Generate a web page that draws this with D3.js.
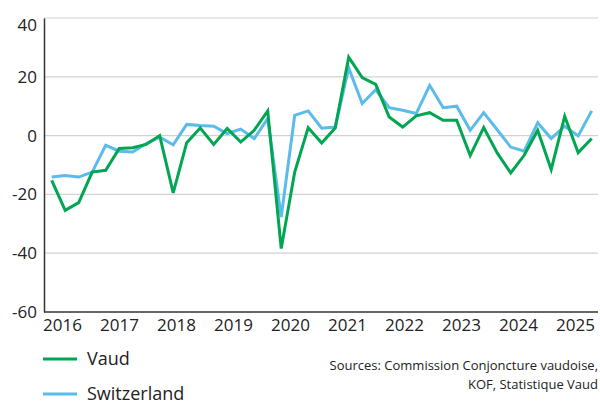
<!DOCTYPE html>
<html lang="en">
<head>
<meta charset="utf-8">
<title>Vaud vs Switzerland</title>
<script src="https://cdn.jsdelivr.net/npm/d3@7"></script>
<style>
  body { margin: 0; background: #fff; }
  svg text { font-family: "Open Sans", sans-serif; fill: #222; }
  .grid line { stroke: #d2d2d2; stroke-width: 1.2; }
  .axis path, .axis line { stroke: #333; }
</style>
</head>
<body>
<svg width="600" height="407"></svg>
<script>
// quarterly survey periods
var periods = ["2016 Q1","2016 Q2","2016 Q3","2016 Q4","2017 Q1","2017 Q2","2017 Q3","2017 Q4",
  "2018 Q1","2018 Q2","2018 Q3","2018 Q4","2019 Q1","2019 Q2","2019 Q3","2019 Q4",
  "2020 Q1","2020 Q2","2020 Q3","2020 Q4","2021 Q1","2021 Q2","2021 Q3","2021 Q4",
  "2022 Q1","2022 Q2","2022 Q3","2022 Q4","2023 Q1","2023 Q2","2023 Q3","2023 Q4",
  "2024 Q1","2024 Q2","2024 Q3","2024 Q4","2025 Q1","2025 Q2","2025 Q3","2025 Q4","2026 Q1"];

var vaud = [-15.2,-25.4,-22.8,-12.4,-11.8,-4.4,-4.1,-3.0,0,-19.5,-2.4,
  2.6,-3.0,2.4,-2.2,1.8,8.4,-38.4,-12.4,2.7,-2.5,
  2.6,26.7,19.7,17.4,6.3,2.9,6.7,7.8,5.2,5.2,
  -6.8,2.7,-5.9,-12.7,-6.7,1.8,-11.5,6.6,-5.8,-1.0];

var swiss = [-14.1,-13.6,-14.1,-12.4,-3.3,-5.3,-5.6,-2.7,-0.5,-3.1,3.8,
  3.4,3.2,0.7,2.2,-1.0,5.8,-27.7,6.9,8.4,2.5,
  2.9,23.0,10.9,15.6,9.5,8.6,7.5,17.1,9.5,10.0,
  1.8,7.8,2.0,-3.9,-5.3,4.4,-1.0,3.2,-0.1,8.4];

var years = [2016,2017,2018,2019,2020,2021,2022,2023,2024,2025];
var yTicks = [-60,-40,-20,0,20,40];

var series = [
  {name: "Switzerland", values: swiss, color: "#5bbbea"},
  {name: "Vaud", values: vaud, color: "#00a651"}
];

var svg = d3.select("svg");
var plotLeft = 44, plotRight = 598, plotTop = 18, plotBottom = 312;

var x = d3.scalePoint().domain(periods).range([51.7, 591.7]);
var xYear = d3.scaleLinear().domain([2016, 2025]).range([62, 575]);
var y = d3.scaleLinear().domain([-60, 40]).range([plotBottom, plotTop]);

// gridlines
svg.append("g").attr("class", "grid")
  .selectAll("line")
  .data(yTicks.filter(function(d) { return d > -60; }))
  .enter().append("line")
  .attr("x1", plotLeft).attr("x2", plotRight)
  .attr("y1", function(d) { return y(d); })
  .attr("y2", function(d) { return y(d); });

// y axis (plain hyphen for negatives, like the original)
var gy = svg.append("g").attr("class", "axis")
  .attr("transform", "translate(" + plotLeft + ",0)")
  .call(d3.axisLeft(y).tickValues(yTicks).tickSize(0).tickPadding(7)
    .tickFormat(function(d) { return String(d); }));
gy.select(".domain").attr("stroke-width", 1.5);
gy.selectAll("text").style("font-size", "17px").style("font-family", "'Open Sans', sans-serif")
  .attr("fill", "#222");
gy.selectAll(".tick").filter(function(d) { return d === 40; })
  .select("text").attr("dy", "0.75em");

// x axis line + year labels
svg.append("line")
  .attr("x1", plotLeft).attr("x2", plotRight)
  .attr("y1", plotBottom).attr("y2", plotBottom)
  .attr("stroke", "#333").attr("stroke-width", 1.5);

var gx = svg.append("g").attr("class", "axis")
  .attr("transform", "translate(0," + plotBottom + ")")
  .call(d3.axisBottom(xYear).tickValues(years).tickFormat(d3.format("d")).tickSize(0).tickPadding(7));
gx.select(".domain").remove();
gx.selectAll("text").style("font-size", "17px").style("font-family", "'Open Sans', sans-serif")
  .attr("fill", "#222");

// lines
var line = d3.line()
  .x(function(d, i) { return x(periods[i]); })
  .y(function(d) { return y(d); });

svg.selectAll(".series")
  .data(series)
  .enter().append("path")
  .attr("class", "series")
  .attr("d", function(d) { return line(d.values); })
  .attr("fill", "none")
  .attr("stroke", function(d) { return d.color; })
  .attr("stroke-width", 3)
  .attr("stroke-linejoin", "miter");

// legend
var legend = [series[1], series[0]];
var lg = svg.selectAll(".legend")
  .data(legend)
  .enter().append("g")
  .attr("class", "legend")
  .attr("transform", function(d, i) { return "translate(43," + (359 + i * 35) + ")"; });
lg.append("line")
  .attr("x1", 0).attr("x2", 34)
  .attr("stroke", function(d) { return d.color; })
  .attr("stroke-width", 3);
lg.append("text")
  .attr("x", 44).attr("dy", "0.36em")
  .style("font-size", "18px")
  .text(function(d) { return d.name; });

// source note
svg.append("text")
  .attr("x", 598).attr("y", 370)
  .attr("text-anchor", "end")
  .style("font-size", "13px")
  .text("Sources: Commission Conjoncture vaudoise,");
svg.append("text")
  .attr("x", 598).attr("y", 389)
  .attr("text-anchor", "end")
  .style("font-size", "13px")
  .text("KOF, Statistique Vaud");
</script>
</body>
</html>
